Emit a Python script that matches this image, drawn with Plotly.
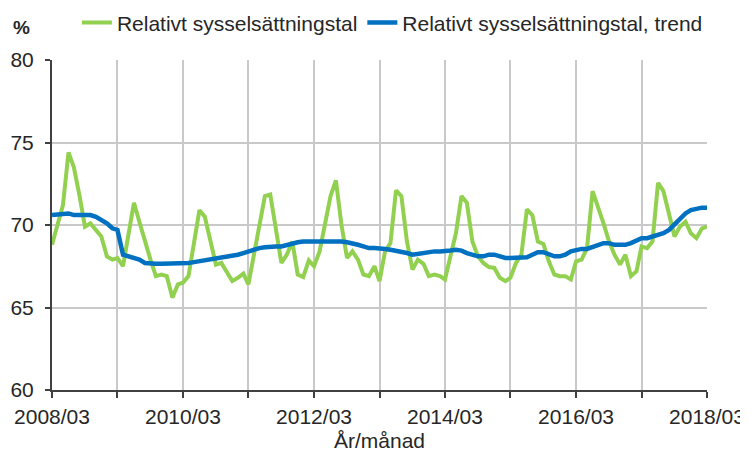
import pandas as pd
import plotly.graph_objects as go

months = pd.date_range("2008-03-01", periods=121, freq="MS")

employment_rate = [
    68.8, 70.0, 71.2, 74.4, 73.5, 71.8, 69.9, 70.1, 69.7, 69.3,
    68.1, 67.9, 68.0, 67.5, 69.4, 71.35, 70.2, 69.0, 67.9, 66.9,
    67.0, 66.9, 65.6, 66.4, 66.5, 66.9, 69.0, 70.9, 70.5, 69.0,
    67.6, 67.7, 67.1, 66.6, 66.8, 67.05, 66.4, 68.2, 70.2, 71.75,
    71.85, 69.7, 67.7, 68.2, 69.0, 67.0, 66.85, 67.85, 67.5, 68.4,
    70.2, 71.75, 72.7, 70.0, 68.0, 68.4, 67.9, 67.0, 66.9, 67.5,
    66.6, 68.4, 68.9, 72.1, 71.75, 69.0, 67.3, 67.9, 67.65, 66.9,
    67.0, 66.9, 66.7, 68.1, 69.5, 71.75, 71.35, 69.0, 68.1, 67.7,
    67.45, 67.4, 66.8, 66.6, 66.8, 67.7, 68.2, 70.95, 70.6, 69.0,
    68.85, 67.8, 67.0, 66.9, 66.9, 66.7, 67.8, 67.9, 68.6, 72.05,
    71.15, 70.1, 69.0, 68.2, 67.6, 68.2, 66.9, 67.2, 68.7, 68.6,
    69.0, 72.55, 72.05, 70.65, 69.3, 69.9, 70.2, 69.5, 69.2, 69.8,
    69.9,
]

employment_trend = [
    70.6, 70.65, 70.7, 70.7, 70.6, 70.6, 70.6, 70.6, 70.5, 70.3,
    70.1, 69.8, 69.7, 68.2, 68.1, 68.0, 67.9, 67.7, 67.65, 67.65,
    67.65, 67.65, 67.65, 67.65, 67.65, 67.7, 67.75, 67.8, 67.85, 67.9,
    68.0, 68.0, 68.05, 68.1, 68.2, 68.3, 68.4, 68.5, 68.6, 68.65,
    68.7, 68.7, 68.7, 68.8, 68.9, 68.95, 69.0, 69.0, 69.05, 69.05,
    69.05, 69.05, 69.05, 69.0, 68.95, 68.9, 68.8, 68.7, 68.6, 68.6,
    68.6, 68.55, 68.5, 68.45, 68.4, 68.3, 68.2, 68.25, 68.35, 68.4,
    68.4, 68.4, 68.4, 68.45, 68.5, 68.45, 68.3, 68.2, 68.1, 68.1,
    68.2, 68.2, 68.1, 68.0, 68.0, 68.0, 68.0, 68.05, 68.2, 68.35,
    68.35, 68.2, 68.1, 68.1, 68.2, 68.4, 68.5, 68.55, 68.55, 68.65,
    68.8, 68.9, 68.9, 68.8, 68.8, 68.8, 68.9, 69.05, 69.2, 69.2,
    69.3, 69.4, 69.5, 69.7, 70.05, 70.4, 70.7, 70.9, 71.0, 71.05,
    71.05,
]

tick_dates = pd.date_range("2008-03-01", "2018-03-01", freq="12MS")
tick_labels = ["2008/03", "", "2010/03", "", "2012/03", "", "2014/03", "",
               "2016/03", "", "2018/03"]
y_ticks = [60, 65, 70, 75, 80]

FONT = "Liberation Sans, Arial, sans-serif"
TXT = "#262626"

fig = go.Figure()
fig.add_trace(go.Scatter(
    x=months, y=employment_rate, mode="lines",
    name="Relativt sysselsättningstal",
    line=dict(color="#92D050", width=4),
))
fig.add_trace(go.Scatter(
    x=months, y=employment_trend, mode="lines",
    name="Relativt sysselsättningstal, trend",
    line=dict(color="#0070C0", width=4.5),
))

# page has an 8px body margin, so the figure is sized to fit the window
fig.update_layout(
    width=740, height=449,
    margin=dict(l=44, r=41, t=52, b=67, autoexpand=False),
    paper_bgcolor="white", plot_bgcolor="white",
    font=dict(family=FONT, size=21, color=TXT),
    showlegend=True,
    legend=dict(orientation="h", x=0.038, xanchor="left",
                y=1.175, yanchor="top", font=dict(size=21, color=TXT),
                bgcolor="rgba(0,0,0,0)", traceorder="normal",
                itemwidth=30, tracegroupgap=0),
    xaxis=dict(
        range=[months[0], months[-1]],
        tickvals=list(tick_dates), ticktext=tick_labels,
        showgrid=True, gridcolor="#C9C9C9", gridwidth=1.5,
        showline=True, linecolor="#404040", linewidth=2,
        ticks="outside", ticklen=6, tickcolor="#404040", tickwidth=1.5,
        tickfont=dict(size=21, color=TXT),
        ticklabelstandoff=1,
        zeroline=False, automargin=False,
    ),
    yaxis=dict(
        range=[60, 80], tickvals=y_ticks,
        showgrid=True, gridcolor="#C9C9C9", gridwidth=1.5,
        showline=True, linecolor="#404040", linewidth=2,
        ticks="outside", ticklen=5, tickcolor="#404040", tickwidth=1.5,
        tickfont=dict(size=21, color=TXT),
        ticklabelstandoff=7,
        zeroline=False, automargin=False,
    ),
    annotations=[
        dict(text="<b>%</b>", xref="paper", yref="paper",
             x=-0.047, y=1.097, xanchor="center", yanchor="middle",
             showarrow=False, font=dict(size=19, color=TXT)),
        dict(text="År/månad", xref="paper", yref="paper",
             x=0.5, y=-0.152, xanchor="center", yanchor="middle",
             showarrow=False, font=dict(size=21, color=TXT)),
    ],
)

fig.write_html("out.html")
